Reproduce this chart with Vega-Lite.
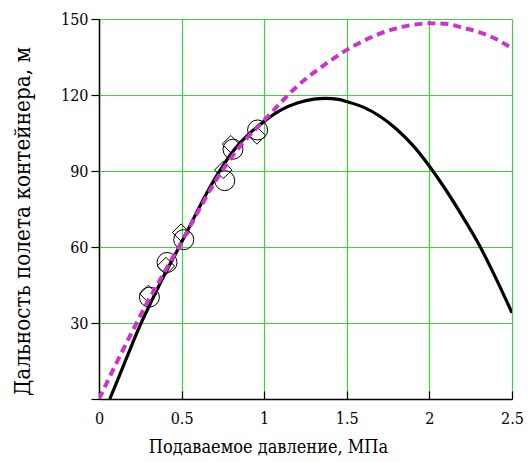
{
  "$schema": "https://vega.github.io/schema/vega-lite/v6.json",
  "autosize": {"type": "none"},
  "width": 413,
  "height": 380,
  "padding": {"left": 99, "top": 19, "right": 18, "bottom": 63},
  "background": "white",
  "config": {
    "view": {"stroke": null},
    "axis": {
      "labelFont": "DejaVu Serif Condensed",
      "labelFontSize": 16,
      "labelColor": "black",
      "titleFont": "DejaVu Serif Condensed",
      "titleFontSize": 18,
      "titleFontWeight": "normal",
      "titleColor": "black",
      "domainColor": "black",
      "domainWidth": 1.5,
      "tickColor": "black",
      "tickWidth": 1.2,
      "gridColor": "#40d040",
      "gridWidth": 1.2,
      "gridOpacity": 1
    }
  },
  "datasets": {
    "black": [
      {"p": 0.065, "d": 0}, {"p": 0.1, "d": 5.5}, {"p": 0.15, "d": 13.5}, {"p": 0.2, "d": 21.5},
      {"p": 0.255, "d": 30}, {"p": 0.3, "d": 36.2}, {"p": 0.4, "d": 49.5}, {"p": 0.485, "d": 60},
      {"p": 0.55, "d": 68.3}, {"p": 0.6, "d": 74.8}, {"p": 0.65, "d": 81}, {"p": 0.7, "d": 86.8},
      {"p": 0.75, "d": 92}, {"p": 0.8, "d": 96.8}, {"p": 0.85, "d": 100.8}, {"p": 0.9, "d": 104.2},
      {"p": 1.0, "d": 109.6}, {"p": 1.1, "d": 114}, {"p": 1.2, "d": 116.8}, {"p": 1.3, "d": 118.4},
      {"p": 1.37, "d": 118.7}, {"p": 1.45, "d": 118.3}, {"p": 1.5, "d": 117.4}, {"p": 1.6, "d": 115.2},
      {"p": 1.7, "d": 111.6}, {"p": 1.8, "d": 106.6}, {"p": 1.9, "d": 100.1}, {"p": 2.0, "d": 91.9},
      {"p": 2.1, "d": 82.5}, {"p": 2.2, "d": 72.1}, {"p": 2.3, "d": 61}, {"p": 2.4, "d": 48},
      {"p": 2.5, "d": 34}
    ],
    "magenta": [
      {"p": 0, "d": 0}, {"p": 0.05, "d": 6.8}, {"p": 0.1, "d": 13.5}, {"p": 0.15, "d": 20},
      {"p": 0.2, "d": 26.5}, {"p": 0.3, "d": 39}, {"p": 0.4, "d": 50.5}, {"p": 0.5, "d": 62},
      {"p": 0.6, "d": 74}, {"p": 0.7, "d": 85.5}, {"p": 0.8, "d": 95.2}, {"p": 0.9, "d": 103.3},
      {"p": 1.0, "d": 110}, {"p": 1.1, "d": 117}, {"p": 1.2, "d": 123.5}, {"p": 1.3, "d": 128.8},
      {"p": 1.4, "d": 133.5}, {"p": 1.5, "d": 137.8}, {"p": 1.6, "d": 141.3}, {"p": 1.7, "d": 144.2},
      {"p": 1.8, "d": 146.3}, {"p": 1.9, "d": 147.7}, {"p": 2.0, "d": 148.3}, {"p": 2.1, "d": 148.1},
      {"p": 2.2, "d": 146.6}, {"p": 2.3, "d": 144.8}, {"p": 2.4, "d": 142.2}, {"p": 2.5, "d": 138.4}
    ],
    "circles": [
      {"p": 0.305, "d": 40.2}, {"p": 0.412, "d": 53.9}, {"p": 0.513, "d": 62.9},
      {"p": 0.761, "d": 86.2}, {"p": 0.811, "d": 98.6}, {"p": 0.96, "d": 106.2}
    ],
    "diamonds": [
      {"p": 0.299, "d": 41.5}, {"p": 0.405, "d": 52.5}, {"p": 0.497, "d": 65.7},
      {"p": 0.752, "d": 90.4}, {"p": 0.798, "d": 100.6}, {"p": 0.956, "d": 104}
    ]
  },
  "layer": [
    {
      "data": {"name": "circles"},
      "mark": {"type": "point", "shape": "circle", "size": 400, "filled": false, "stroke": "black", "strokeWidth": 1, "opacity": 1},
      "encoding": {
        "x": {
          "field": "p", "type": "quantitative",
          "scale": {"domain": [0, 2.5], "nice": false, "zero": false},
          "axis": {
            "values": [0, 0.5, 1, 1.5, 2, 2.5],
            "labelExpr": "'' + datum.value",
            "grid": true,
            "tickSize": -8,
            "labelPadding": 19,
            "labelFlush": false,
            "title": "Подаваемое давление, МПа",
            "titleX": 169,
            "titleY": 53,
            "titleAnchor": null,
            "titleAlign": "center",
            "titleBaseline": "alphabetic"
          }
        },
        "y": {
          "field": "d", "type": "quantitative",
          "scale": {"domain": [0, 150], "nice": false, "zero": false},
          "axis": {
            "values": [0, 30, 60, 90, 120, 150],
            "labelExpr": "datum.value == 0 ? '' : '' + datum.value",
            "grid": true,
            "tickSize": 8,
            "labelPadding": 3,
            "labelFlush": false,
            "title": "Дальность полета контейнера, м",
            "titleFontSize": 22.3,
            "titleX": -77,
            "titleY": 202,
            "titleAngle": -90,
            "titleAlign": "center",
            "titleBaseline": "middle"
          }
        }
      }
    },
    {
      "data": {"name": "diamonds"},
      "mark": {"type": "point", "shape": "diamond", "size": 300, "filled": false, "stroke": "black", "strokeWidth": 1, "opacity": 1},
      "encoding": {
        "x": {"field": "p", "type": "quantitative"},
        "y": {"field": "d", "type": "quantitative"}
      }
    },
    {
      "data": {"name": "black"},
      "mark": {"type": "line", "color": "black", "strokeWidth": 3.2, "interpolate": "monotone", "clip": true},
      "encoding": {
        "x": {"field": "p", "type": "quantitative"},
        "y": {"field": "d", "type": "quantitative"}
      }
    },
    {
      "data": {"name": "magenta"},
      "mark": {"type": "line", "color": "#cc33cc", "strokeWidth": 4, "strokeDash": [8, 5], "interpolate": "monotone", "clip": true},
      "encoding": {
        "x": {"field": "p", "type": "quantitative"},
        "y": {"field": "d", "type": "quantitative"}
      }
    }
  ]
}
